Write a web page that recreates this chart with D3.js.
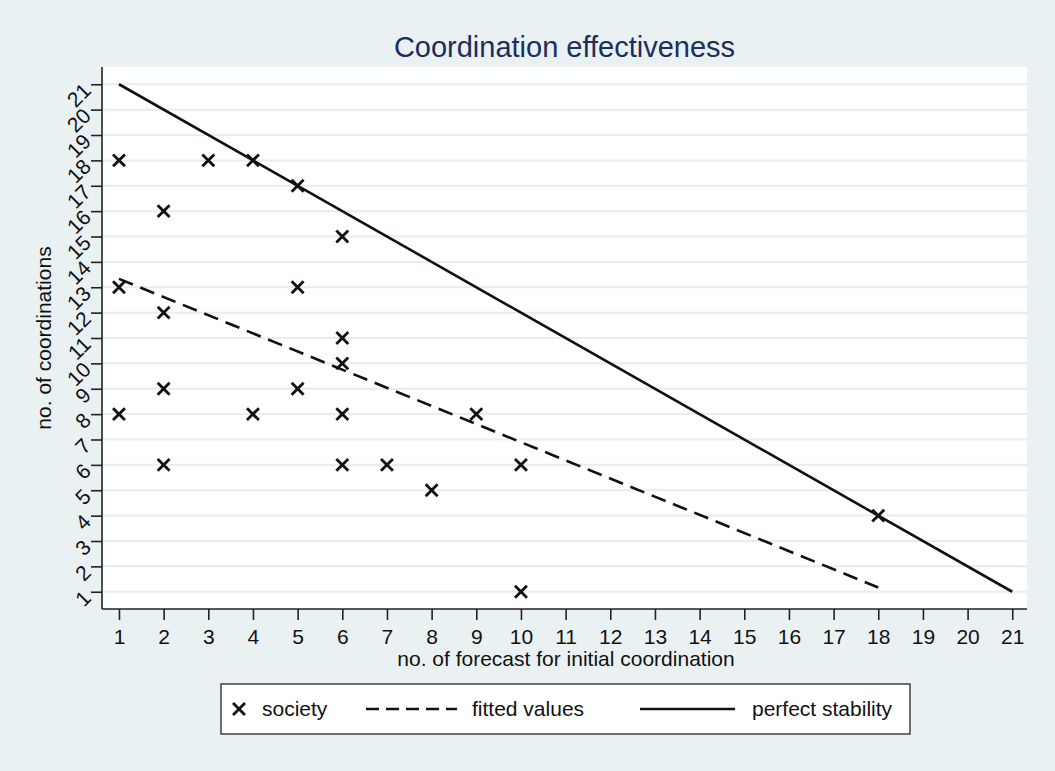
<!DOCTYPE html>
<html><head><meta charset="utf-8">
<script src="https://cdn.jsdelivr.net/npm/d3@7"></script>
<style>
html,body{margin:0;padding:0;background:#eaf1f3;}
svg{display:block;font-family:"Liberation Sans",Arial,sans-serif;}
</style></head>
<body>
<script>
// ---- data ----
const societyX = [1,3,4,5,2,6,5,1,2,6,6,2,5,1,4,6,9,2,6,7,10,8,10,18];
const societyY = [18,18,18,17,16,15,13,13,12,11,10,9,9,8,8,8,8,6,6,6,6,5,1,4];
const fittedX = [1, 18];
const fittedY = [13.33, 1.17];
const perfectX = [1, 21];
const perfectY = [21, 1];
const xTicks = d3.range(1, 22);
const yTicks = d3.range(1, 22);
const titleText = "Coordination effectiveness";
const xTitle = "no. of forecast for initial coordination";
const yTitle = "no. of coordinations";
const legendLabels = ["society", "fitted values", "perfect stability"];

(function(){
const W = 1055, H = 771;
const FS = "21px";
const svg = d3.select("body").append("svg").attr("width", W).attr("height", H);
svg.append("rect").attr("width", W).attr("height", H).attr("fill", "#eaf1f3");

const pL = 102, pR = 1027, pT = 67, pB = 609;
const x = d3.scaleLinear().domain([0.62, 21.33]).range([pL, pR]);
const y = d3.scaleLinear().domain([0.32, 21.68]).range([pB, pT]);

svg.append("rect").attr("x", pL).attr("y", pT).attr("width", pR - pL).attr("height", pB - pT).attr("fill", "#ffffff");

// gridlines
svg.append("g").selectAll("line").data(yTicks).join("line")
  .attr("x1", pL).attr("x2", pR)
  .attr("y1", d => y(d)).attr("y2", d => y(d))
  .attr("stroke", "#e3edf2").attr("stroke-width", 2);

// axes
const xAxis = svg.append("g").attr("transform", `translate(0,${pB})`)
  .call(d3.axisBottom(x).tickValues(xTicks).tickSize(11).tickPadding(9).tickFormat(d3.format("d")));
const yAxis = svg.append("g").attr("transform", `translate(${pL},0)`)
  .call(d3.axisLeft(y).tickValues(yTicks).tickSize(11).tickPadding(4).tickFormat(d3.format("d")));
[xAxis, yAxis].forEach(a => {
  a.attr("font-size", null).attr("font-family", null);
  a.select(".domain").attr("stroke", "#222").attr("stroke-width", 1.6);
  a.selectAll(".tick line").attr("stroke", "#222").attr("stroke-width", 1.6);
  a.selectAll("text").attr("fill", "#111").style("font-size", FS);
});
xAxis.select(".domain").attr("d", `M${pL},0H${pR}`);
yAxis.select(".domain").attr("d", `M0,${pB}V${pT}`);
yAxis.selectAll(".tick text")
  .attr("x", null)
  .attr("text-anchor", "end")
  .attr("transform", "translate(-15,2) rotate(-45)")
  .attr("dy", "0.35em");

// perfect stability line
const line = d3.line().x(d => x(d[0])).y(d => y(d[1]));
svg.append("path").datum(d3.zip(perfectX, perfectY)).attr("d", line)
  .attr("fill", "none").attr("stroke", "#111").attr("stroke-width", 2.6);
// fitted
svg.append("path").datum(d3.zip(fittedX, fittedY)).attr("d", line)
  .attr("fill", "none").attr("stroke", "#111").attr("stroke-width", 2.6)
  .attr("stroke-dasharray", "15,8");

// markers
const xSym = d3.symbol().type(d3.symbolX).size(95);
svg.append("g").selectAll("path").data(d3.zip(societyX, societyY)).join("path")
  .attr("transform", d => `translate(${x(d[0])},${y(d[1])})`)
  .attr("d", xSym()).attr("fill", "none").attr("stroke", "#111").attr("stroke-width", 2.8);

// titles
svg.append("text").attr("x", (pL + pR) / 2).attr("y", 57).attr("text-anchor", "middle")
  .attr("fill", "#1c2e5c").style("font-size", "29px").text(titleText);
svg.append("text").attr("x", 566).attr("y", 666).attr("text-anchor", "middle")
  .attr("fill", "#111").style("font-size", FS).text(xTitle);
svg.append("text").attr("transform", `translate(51,${(pT + pB) / 2}) rotate(-90)`).attr("text-anchor", "middle")
  .attr("fill", "#111").style("font-size", FS).text(yTitle);

// legend
const lg = svg.append("g");
lg.append("rect").attr("x", 221).attr("y", 684).attr("width", 689).attr("height", 50)
  .attr("fill", "#fff").attr("stroke", "#333").attr("stroke-width", 1.4);
const ly = 709;
lg.append("path").attr("transform", `translate(239,${ly})`).attr("d", xSym())
  .attr("fill", "none").attr("stroke", "#111").attr("stroke-width", 2.8);
lg.append("text").attr("x", 262).attr("y", ly).attr("dy", "0.35em").style("font-size", FS).attr("fill", "#111").text(legendLabels[0]);
lg.append("line").attr("x1", 366).attr("x2", 457).attr("y1", ly).attr("y2", ly)
  .attr("stroke", "#111").attr("stroke-width", 2.6).attr("stroke-dasharray", "13,7");
lg.append("text").attr("x", 472).attr("y", ly).attr("dy", "0.35em").style("font-size", FS).attr("fill", "#111").text(legendLabels[1]);
lg.append("line").attr("x1", 640).attr("x2", 735).attr("y1", ly).attr("y2", ly)
  .attr("stroke", "#111").attr("stroke-width", 2.6);
lg.append("text").attr("x", 752).attr("y", ly).attr("dy", "0.35em").style("font-size", FS).attr("fill", "#111").text(legendLabels[2]);
})();
</script>
</body></html>
